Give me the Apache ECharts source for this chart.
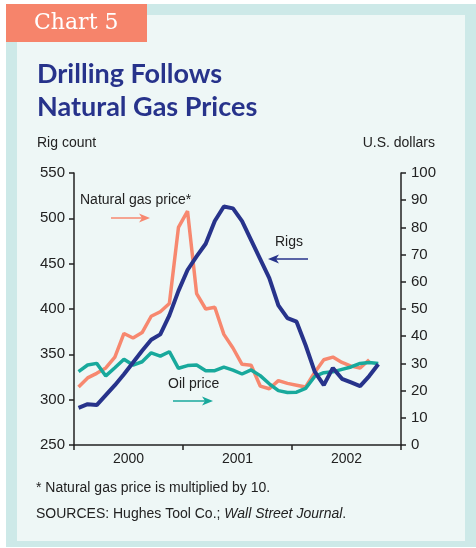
<!DOCTYPE html>
<html>
<head>
<meta charset="utf-8">
<script src="https://cdn.jsdelivr.net/npm/echarts@6/dist/echarts.min.js"></script>
<style>
html, body { margin: 0; padding: 0; background: #fff; }
#chart { width: 476px; height: 548px; }
</style>
</head>
<body>
<div id="chart"></div>
<script>
// monthly data, Jan 2000 onward
var years = ['2000', '2001', '2002'];
var months = [];
years.forEach(function (y) {
  for (var m = 1; m <= 12; m++) months.push(y + '-' + m);
});

var rigs = [291, 295, 294, 305, 316, 328, 341, 354, 366, 372, 393, 420,
            443, 458, 472, 497, 513, 511, 497, 476, 455, 434, 404, 390,
            386, 360, 331, 316, 335, 323, 319, 315, 326, 339];
// natural gas price x 10
var gasPrice = [314, 324, 329, 335, 347, 373, 368, 374, 392, 397, 406, 490,
                508, 417, 400, 402, 372, 357, 339, 338, 315, 312, 321, 318,
                316, 314, 330, 344, 347, 341, 337, 335, 344];
var oilPrice = [27.0, 29.4, 30.0, 25.4, 28.4, 31.5, 29.4, 30.6, 33.9, 32.7, 34.3, 28.2,
                29.2, 29.4, 27.3, 27.3, 28.6, 27.5, 26.1, 27.6, 25.5, 22.5, 20.0, 19.3,
                19.4, 20.8, 25.2, 26.6, 26.9, 27.8, 28.7, 30.0, 30.3, 30.0];

var rigMin = 250, rigMax = 550, rigStep = 50;
var usdMin = 0, usdMax = 100, usdStep = 10;

var NAVY = '#27338b', GAS = '#f7886f', OIL = '#18a99c', INK = '#222';
var TXT = '"Liberation Sans", Arial, sans-serif';

function arrow(x1, x2, y, color) {
  var dir = x2 > x1 ? 1 : -1;
  return {
    type: 'group',
    children: [
      { type: 'line', shape: { x1: x1, y1: y, x2: x2 - dir * 8, y2: y },
        style: { stroke: color, lineWidth: 1.5 } },
      { type: 'polygon', shape: { points: [[x2, y], [x2 - dir * 11, y - 4.5], [x2 - dir * 8, y], [x2 - dir * 11, y + 4.5]] },
        style: { fill: color } }
    ]
  };
}

var chart = echarts.init(document.getElementById('chart'));
chart.setOption({
  animation: false,
  backgroundColor: '#fff',
  textStyle: { fontFamily: TXT },
  grid: { left: 74, right: 75, top: 173, bottom: 103 },
  xAxis: [{
    type: 'category',
    data: years,
    boundaryGap: true,
    axisLine: { lineStyle: { color: INK, width: 1.5 } },
    axisTick: { show: true, length: 5, lineStyle: { color: INK, width: 1.5 } },
    axisLabel: { color: INK, fontSize: 14, margin: 7 }
  }, {
    type: 'category',
    data: months,
    boundaryGap: true,
    show: false
  }],
  yAxis: [{
    type: 'value',
    min: rigMin, max: rigMax, interval: rigStep,
    position: 'left',
    axisLine: { show: true, lineStyle: { color: INK, width: 1.5 } },
    axisTick: { show: true, length: 5, lineStyle: { color: INK, width: 1.5 } },
    axisLabel: { color: INK, fontSize: 15, margin: 9 },
    splitLine: { show: false }
  }, {
    type: 'value',
    min: usdMin, max: usdMax, interval: usdStep,
    position: 'right',
    axisLine: { show: true, lineStyle: { color: INK, width: 1.5 } },
    axisTick: { show: true, length: 5, lineStyle: { color: INK, width: 1.5 } },
    axisLabel: { color: INK, fontSize: 15, margin: 10 },
    splitLine: { show: false }
  }],
  series: [{
    name: 'Natural gas price', type: 'line', xAxisIndex: 1, yAxisIndex: 0,
    data: gasPrice, symbol: 'none',
    lineStyle: { color: GAS, width: 3.5 }
  }, {
    name: 'Oil price', type: 'line', xAxisIndex: 1, yAxisIndex: 1,
    data: oilPrice, symbol: 'none',
    lineStyle: { color: OIL, width: 3.5 }
  }, {
    name: 'Rigs', type: 'line', xAxisIndex: 1, yAxisIndex: 0,
    data: rigs, symbol: 'none',
    lineStyle: { color: NAVY, width: 4 }
  }],
  graphic: [
    { type: 'rect', z: -10, shape: { x: 6, y: 4, width: 470, height: 543 }, style: { fill: '#cde9e8' } },
    { type: 'rect', z: -9, shape: { x: 17, y: 15, width: 448, height: 526 }, style: { fill: '#eef7f6' } },
    { type: 'rect', z: -8, shape: { x: 6, y: 4, width: 141, height: 38 }, style: { fill: '#f6846b' } },
    { type: 'text', x: 34, y: 23, style: { text: 'Chart 5', fill: '#fff', font: '22px "DejaVu Serif", serif', verticalAlign: 'middle' } },
    { type: 'text', x: 37, y: 74, style: { text: 'Drilling Follows', fill: NAVY, font: 'bold 27px Lato, sans-serif', verticalAlign: 'middle' } },
    { type: 'text', x: 37, y: 107, style: { text: 'Natural Gas Prices', fill: NAVY, font: 'bold 27px Lato, sans-serif', verticalAlign: 'middle' } },
    { type: 'text', x: 37, y: 143, style: { text: 'Rig count', fill: INK, font: '14px ' + TXT, verticalAlign: 'middle' } },
    { type: 'text', x: 435, y: 143, style: { text: 'U.S. dollars', fill: INK, font: '14px ' + TXT, verticalAlign: 'middle', align: 'right' } },
    { type: 'text', x: 80, y: 200, style: { text: 'Natural gas price*', fill: INK, font: '14px ' + TXT, verticalAlign: 'middle' } },
    arrow(111, 150, 218, GAS),
    { type: 'text', x: 275, y: 242, style: { text: 'Rigs', fill: INK, font: '14px ' + TXT, verticalAlign: 'middle' } },
    arrow(308, 268, 259, NAVY),
    { type: 'text', x: 168, y: 384, style: { text: 'Oil price', fill: INK, font: '14px ' + TXT, verticalAlign: 'middle' } },
    arrow(173, 213, 401, OIL),
    { type: 'text', x: 36, y: 488, style: { text: '* Natural gas price is multiplied by 10.', fill: INK, font: '14px ' + TXT, verticalAlign: 'middle' } },
    { type: 'text', x: 36, y: 514, style: {
        text: '{n|SOURCES: Hughes Tool Co.; }{i|Wall Street Journal}{n|.}',
        verticalAlign: 'middle',
        rich: {
          n: { fill: INK, fontSize: 14, fontFamily: TXT },
          i: { fill: INK, fontSize: 14, fontFamily: TXT, fontStyle: 'italic' }
        }
      } }
  ]
});
</script>
</body>
</html>
